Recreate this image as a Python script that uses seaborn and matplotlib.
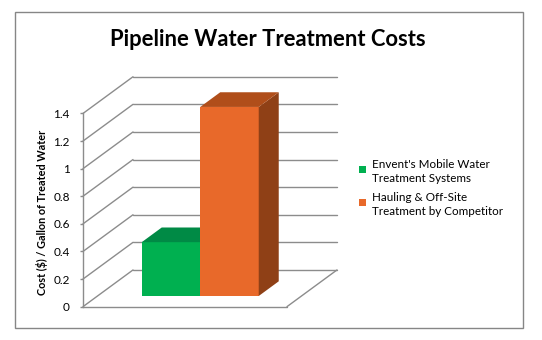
import matplotlib
matplotlib.use("Agg")
import matplotlib.pyplot as plt
import seaborn as sns
import pandas as pd
from matplotlib.patches import Polygon, Patch, Rectangle
from matplotlib.lines import Line2D
from matplotlib.legend_handler import HandlerPatch

# ---- data ----
categories = ["Envent's Mobile Water\nTreatment Systems",
              "Hauling & Off-Site\nTreatment by Competitor"]
values = [0.39, 1.37]
tick_values = [0, 0.2, 0.4, 0.6, 0.8, 1, 1.2, 1.4]
tick_labels = ["0", "0.2", "0.4", "0.6", "0.8", "1", "1.2", "1.4"]
front_colors = ["#00B050", "#E8692A"]
top_colors = ["#008A45", "#B04E1A"]
side_colors = ["#00703A", "#8F4016"]
title = "Pipeline Water Treatment Costs"
ylabel = "Cost ($) / Gallon of Treated Water"

sns.set_style("white")
plt.rcParams["font.family"] = ["Lato", "DejaVu Sans"]

W, H = 542, 340
fig = plt.figure(figsize=(W / 100, H / 100), dpi=100)

# oblique 3D geometry (data units)
Dx, Dy = 0.855, 0.266     # full depth offset
d0, bd = 0.29, 0.40       # bar front depth, bar depth (fractions)
X_left, X_right = -1.504, 1.983
xlim = (-1.504, 2.838)
ylim = (-0.0797, 1.5942)

ax = fig.add_axes([83 / W, 1 - 307 / H, 254 / W, 231 / H])

df = pd.DataFrame({"cat": categories, "val": values})
sns.barplot(data=df, x="cat", y="val", hue="cat", palette=front_colors,
            width=1.0, ax=ax, legend=False, saturation=1)
ax.set_xlim(*xlim)
ax.set_ylim(*ylim)

grid_c = "#8C8C8C"
y0 = -d0 * Dy
yb = (1 - d0) * Dy
# gridlines: slanted side wall + back wall
for v in tick_values:
    ax.add_line(Line2D([X_left, X_left + Dx], [v + y0, v + yb], color=grid_c,
                       lw=1, zorder=1, clip_on=False))
    ax.add_line(Line2D([X_left + Dx, X_right + Dx], [v + yb, v + yb], color=grid_c,
                       lw=1, zorder=1, clip_on=False))
# floor
ax.add_line(Line2D([X_left, X_right], [y0, y0], color=grid_c, lw=1, zorder=1, clip_on=False))
ax.add_line(Line2D([X_right, X_right + Dx], [y0, yb], color=grid_c, lw=1, zorder=1, clip_on=False))

# 3D faces of bars
for i, p in enumerate(ax.patches[:len(values)]):
    x0, w, h = p.get_x(), p.get_width(), p.get_height()
    bdx, bdy = bd * Dx, bd * Dy
    z = 3 + i
    p.set_zorder(z)
    p.set_edgecolor("none")
    side = Polygon([(x0 + w, 0), (x0 + w + bdx, bdy), (x0 + w + bdx, h + bdy), (x0 + w, h)],
                   closed=True, facecolor=side_colors[i], edgecolor="none", zorder=z + 0.05,
                   clip_on=False)
    top = Polygon([(x0, h), (x0 + w, h), (x0 + w + bdx, h + bdy), (x0 + bdx, h + bdy)],
                  closed=True, facecolor=top_colors[i], edgecolor="none", zorder=z + 0.1,
                  clip_on=False)
    ax.add_patch(side)
    ax.add_patch(top)

# axis styling
for s in ["top", "right", "bottom"]:
    ax.spines[s].set_visible(False)
ax.spines["left"].set_color(grid_c)
ax.spines["left"].set_linewidth(1)
ax.spines["left"].set_bounds(tick_values[0] + y0, tick_values[-1] + y0)
ax.set_yticks([v + y0 for v in tick_values])
ax.set_yticklabels(tick_labels)
ax.tick_params(axis="y", length=2.5, width=1, color=grid_c, pad=7, labelsize=8.5,
               labelcolor="#000000", left=True)
ax.set_xticks([])
ax.set_xlabel("")
ax.set_ylabel("")
ax.patch.set_alpha(0)

# title and y label
fig.text(268 / W, 1 - 39 / H, title, ha="center", va="center", fontsize=15.8,
         fontweight="bold", color="#000000")
fig.text(42 / W, 1 - 212 / H, ylabel, ha="center", va="center", rotation=90,
         fontsize=7.8, fontweight="bold", color="#000000")


# legend: square aligned with the first line of each two-line label
def top_square(legend, orig_handle, xdescent, ydescent, width, height, fontsize):
    sq = 0.62 * fontsize
    return Rectangle((-xdescent, -ydescent + height - sq - 0.3 * fontsize), sq, sq)


handles = [Patch(facecolor=c, edgecolor="none") for c in front_colors]
leg = fig.legend(handles, categories, loc="upper left", bbox_to_anchor=(359 / W, 1 - 159 / H),
                 frameon=False, fontsize=8.4, handlelength=0.62, handleheight=2.3,
                 handletextpad=0.5, labelspacing=0.7, borderpad=0, borderaxespad=0,
                 handler_map={Patch: HandlerPatch(patch_func=top_square)})
for t in leg.get_texts():
    t.set_linespacing(1.33)
    t.set_color("#000000")

# chart border
fig.add_artist(Rectangle((15 / W, 1 - 328 / H), (523 - 15) / W, (328 - 12) / H,
                         transform=fig.transFigure, fill=False, edgecolor="#868686", lw=1))

fig.savefig("out.png", dpi=100)
